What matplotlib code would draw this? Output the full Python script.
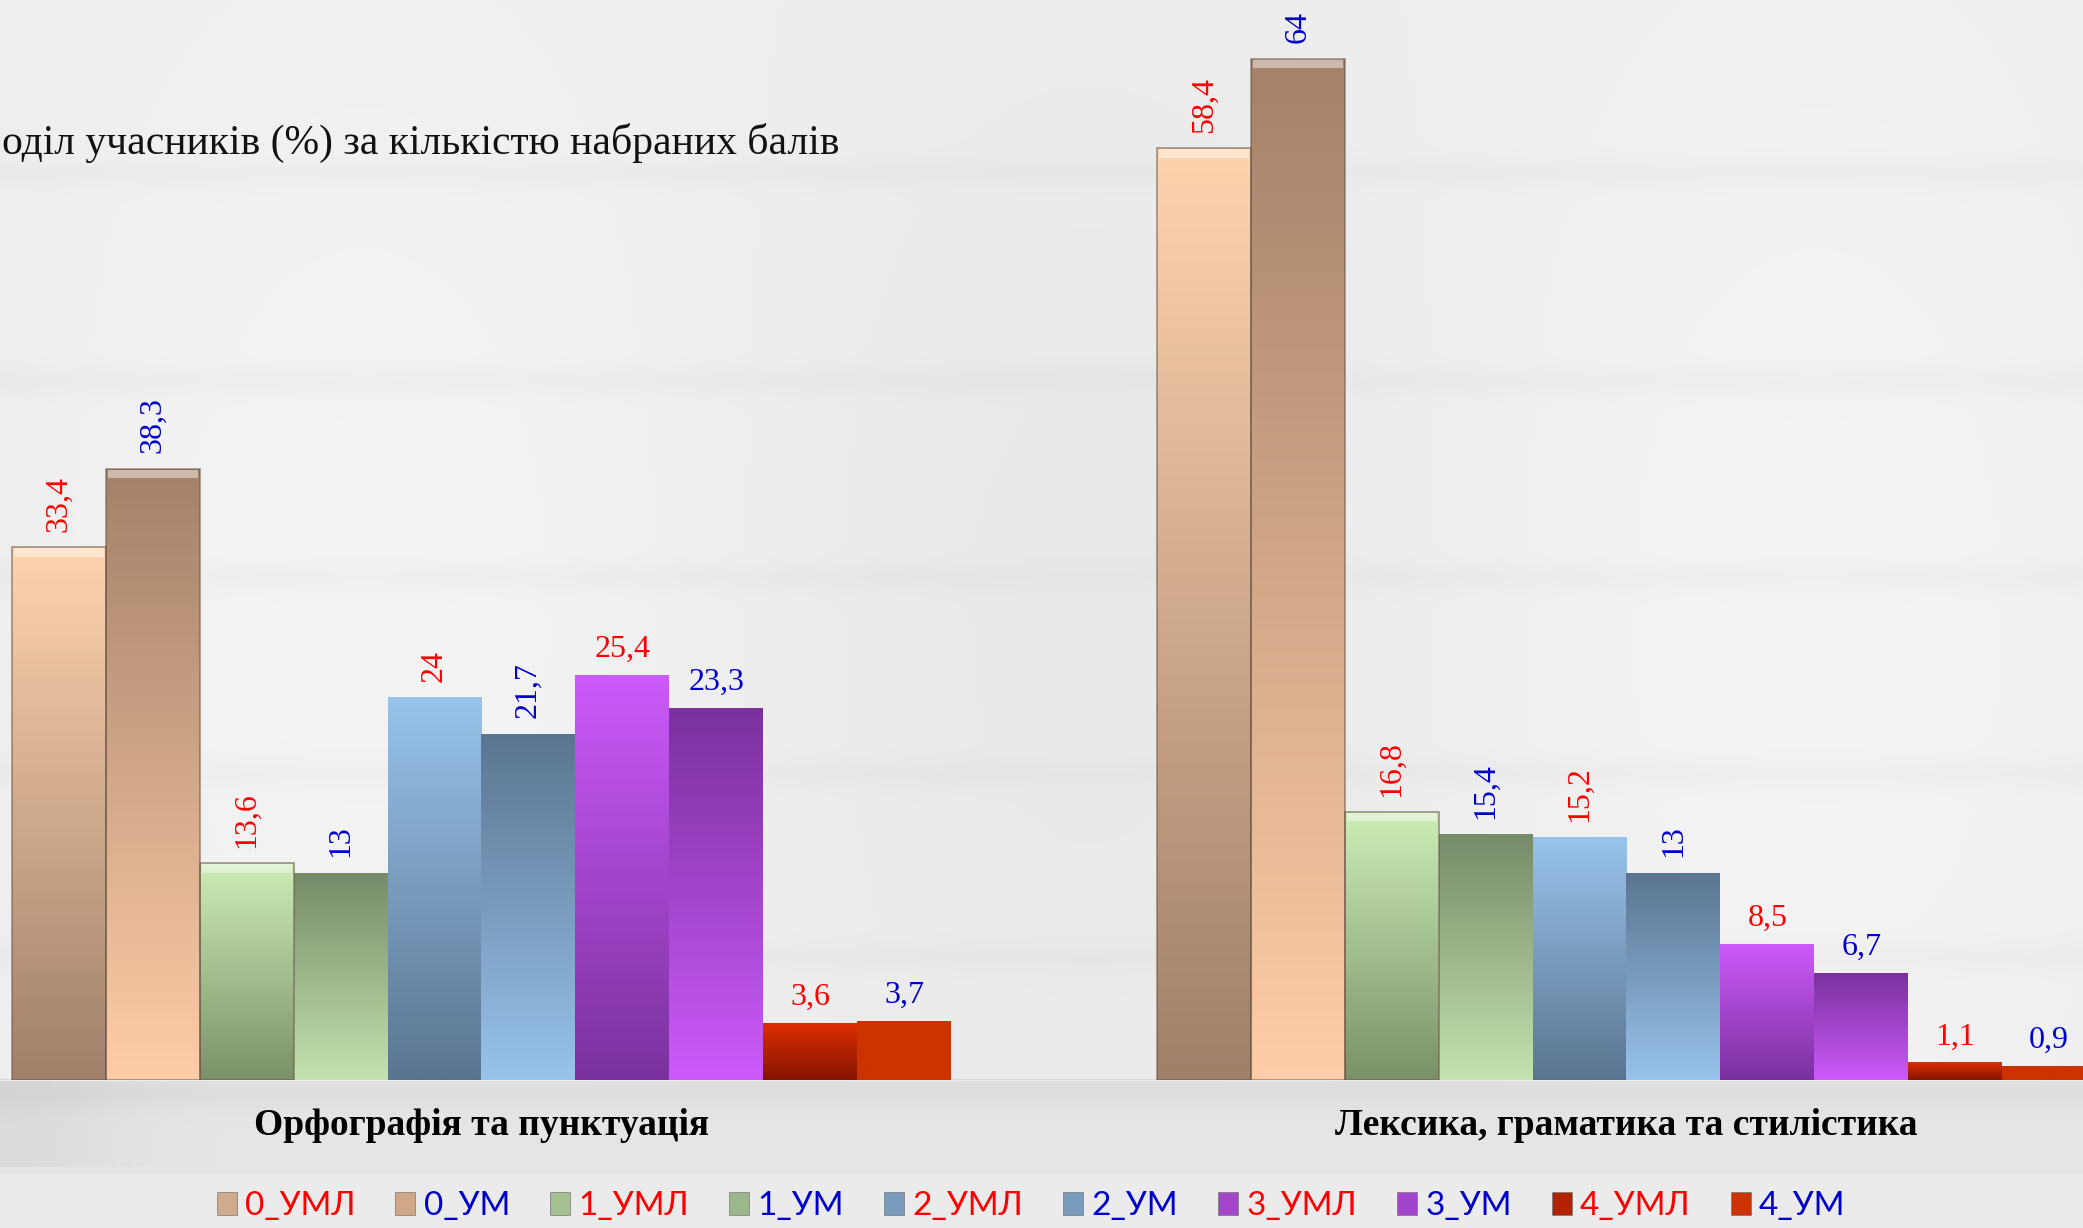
import numpy as np
import matplotlib
matplotlib.use("Agg")
import matplotlib.pyplot as plt
from matplotlib.colors import LinearSegmentedColormap
from matplotlib.patches import Patch

# data
groups = ["Орфографія та пунктуація", "Лексика, граматика та стилістика"]
series = ["0_УМЛ", "0_УМ", "1_УМЛ", "1_УМ", "2_УМЛ", "2_УМ", "3_УМЛ", "3_УМ", "4_УМЛ", "4_УМ"]
values = [
    [33.4, 58.4],
    [38.3, 64.0],
    [13.6, 16.8],
    [13.0, 15.4],
    [24.0, 15.2],
    [21.7, 13.0],
    [25.4, 8.5],
    [23.3, 6.7],
    [3.6, 1.1],
    [3.7, 0.9],
]
# left part of the subtitle is cut off in the source picture
subtitle = "оділ учасників (%) за кількістю набраних балів"

# gradient colours (top, bottom) per series
grad = [
    ("#FFD3AE", "#A0806A"),
    ("#A48169", "#FFCDA7"),
    ("#CDEDB6", "#7B9169"),
    ("#768B68", "#C3E3AE"),
    ("#98C3EB", "#5A7590"),
    ("#5A7590", "#98C3EB"),
    ("#CC5AFA", "#7A319E"),
    ("#7A319E", "#CC5AFA"),
    ("#E02E00", "#841400"),
    ("#CC3300", "#CC3300"),
]
bevel = [True, True, True, False, False, False, False, False, False, False]
label_colors = ["#FF0000" if s.endswith("УМЛ") else "#0000CC" for s in series]
rotated = [True] * 6 + [False] * 4

W, H = 2083, 1228
fig = plt.figure(figsize=(W / 100, H / 100), dpi=100)

# background: soft light wall
bg = fig.add_axes([0, 0, 1, 1])
yy = np.linspace(0, 1, 400)[:, None]
xx = np.linspace(0, 1, 600)[None, :]
base = 0.935 + 0.02 * np.sin(xx * 9) * np.exp(-((yy - 0.5) ** 2) * 4)
for yb in [0.14, 0.31, 0.47, 0.63, 0.78]:
    base = base - 0.015 * np.exp(-((yy - yb) / 0.012) ** 2)
floor = (yy > 0.88)
base = np.where(floor, 0.90 - 0.03 * np.exp(-((yy - 0.89) / 0.015) ** 2)
                - 0.04 * np.exp(-(xx / 0.06) ** 2) * (yy < 0.95), base)
base = np.where(yy > 0.955, 0.925, base)
bg.imshow(np.dstack([base, base, base]), extent=[0, 1, 0, 1], aspect="auto", origin="upper")
bg.axis("off")

ax = fig.add_axes([0, 148 / H, 1, 1080 / H])
ax.patch.set_alpha(0)
ax.set_xlim(-0.4205, 1.3987)
ax.set_ylim(0, 1080 / 15.96)

x = np.arange(len(groups))
w = 0.082
n = len(series)

for i, s in enumerate(series):
    xs = x + (i - (n - 1) / 2) * w
    cmap = LinearSegmentedColormap.from_list(s, [grad[i][1], grad[i][0]])
    bars = ax.bar(xs, values[i], w, color="none", edgecolor="none", zorder=2)
    for b in bars:
        x0, h = b.get_x(), b.get_height()
        g = np.linspace(0, 1, 256)[:, None]
        im = ax.imshow(g, cmap=cmap, extent=[x0, x0 + w, 0, h], origin="lower",
                       aspect="auto", zorder=2)
        im.set_clip_path(b)
        if bevel[i]:
            ax.bar(x0 + w / 2, 0.55, w * 0.96, bottom=h - 0.6, color="white",
                   alpha=0.45, zorder=3, edgecolor="none")
            ax.bar(x0 + w / 2, h, w, color="none", edgecolor="#6a5546",
                   linewidth=1.2, zorder=4, alpha=0.6)
    for xi, v in zip(xs, values[i]):
        txt = f"{v:g}".replace(".", ",")
        if rotated[i]:
            ax.annotate(txt, (xi, v), xytext=(0, 11), textcoords="offset points",
                        ha="center", va="bottom", rotation=90, color=label_colors[i],
                        fontsize=23, family="Liberation Serif")
        else:
            ax.annotate(txt, (xi, v), xytext=(0, 8), textcoords="offset points",
                        ha="center", va="bottom", color=label_colors[i],
                        fontsize=23, family="Liberation Serif")

ax.axhline(0, color="#d6d6d6", linewidth=2, zorder=1)
ax.set_xticks(x)
ax.set_xticklabels(groups, fontsize=27, fontweight="bold", family="Liberation Serif")
ax.tick_params(axis="x", length=0, pad=20)
ax.set_yticks([])
for sp in ax.spines.values():
    sp.set_visible(False)

fig.text(2 / W, 1 - 143 / H, subtitle, ha="left", va="center",
         fontsize=30, family="Liberation Serif", color="#111111")

handles = [Patch(facecolor=LinearSegmentedColormap.from_list("m", [grad[i][1], grad[i][0]])(0.5),
                 edgecolor="#777777", linewidth=0.5) for i in range(n)]
fig.legend(handles, series, ncol=n, loc="center", bbox_to_anchor=(0.495, 1 - 1206 / H),
           frameon=False, labelcolor=label_colors, prop={"family": "Lato", "size": 24},
           handlelength=0.6, handleheight=0.7, handletextpad=0.25, columnspacing=1.2)

fig.savefig("out.png", dpi=100)
